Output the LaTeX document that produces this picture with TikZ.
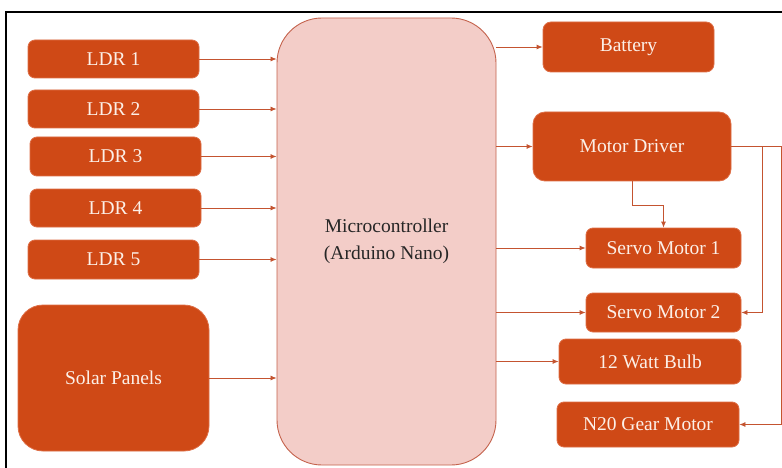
\documentclass[tikz,border=0pt]{standalone}
\usepackage{fontspec}
\newfontfamily\diafont{Liberation Serif}
\usetikzlibrary{arrows.meta}
\definecolor{boxfill}{RGB}{207,73,22}
\definecolor{boxedge}{RGB}{222,110,70}
\definecolor{mcfill}{RGB}{243,205,200}
\definecolor{mcedge}{RGB}{196,98,76}
\definecolor{linecol}{RGB}{196,84,48}
\definecolor{txtcol}{RGB}{252,240,232}
\tikzset{
  box/.style={draw=boxedge, line width=0.8pt, fill=boxfill, text=txtcol,
    font=\diafont\fontsize{19.5}{23}\selectfont, inner sep=0pt, rounded corners=7pt},
  mcbox/.style={draw=mcedge, line width=0.9pt, fill=mcfill, text=black!85,
    font=\diafont\fontsize{19.5}{27}\selectfont, align=center, inner sep=0pt, rounded corners=45pt},
  conn/.style={draw=linecol, line width=0.8pt},
  arr/.style={conn, -{Latex[length=6pt,width=5pt]}}
}
\begin{document}
\begin{tikzpicture}[x=1pt,y=-1pt]
\useasboundingbox (0,0) rectangle (782,468);
\fill[white] (0,0) rectangle (782,468);
% frame
\draw[black, line width=2.2pt] (6,470) -- (6,12) -- (784,12);
% left column
\node[box, minimum width=171pt, minimum height=38pt] (l1) at (113.5,59) {LDR 1};
\node[box, minimum width=171pt, minimum height=38pt] (l2) at (113.5,109) {LDR 2};
\node[box, minimum width=171pt, minimum height=39pt] (l3) at (115.5,156.5) {LDR 3};
\node[box, minimum width=171pt, minimum height=38pt] (l4) at (115.5,208) {LDR 4};
\node[box, minimum width=171pt, minimum height=39pt] (l5) at (113.5,259.5) {LDR 5};
\node[box, minimum width=191pt, minimum height=146pt, rounded corners=25pt] (sp) at (113.5,378) {Solar Panels};
% microcontroller
\node[mcbox, minimum width=219pt, minimum height=447pt] (mc) at (386.5,241.5) {Microcontroller\\(Arduino Nano)};
% right column
\node[box, minimum width=171pt, minimum height=50pt, rounded corners=8pt] (bat) at (628.5,47) {Battery};
\node[box, minimum width=198pt, minimum height=69pt, rounded corners=12pt] (md) at (632,146.5) {Motor Driver};
\node[box, minimum width=155pt, minimum height=40pt] (s1) at (663.5,248) {Servo Motor 1};
\node[box, minimum width=155pt, minimum height=39pt] (s2) at (663.5,312.5) {Servo Motor 2};
\node[box, minimum width=182pt, minimum height=45pt] (bulb) at (650,361.5) {12 Watt Bulb};
\node[box, minimum width=182pt, minimum height=45pt] (n20) at (648,424.5) {N20 Gear Motor};
% inputs
\foreach \n in {l1,l2,l3,l4,l5,sp}{
  \draw[arr] (\n.east) -- (\n.east -| mc.west);
}
% outputs
\draw[arr] (mc.east |- bat.west) -- (bat.west);
\draw[arr] (mc.east |- md.west) -- (md.west);
\draw[arr] (mc.east |- s1.west) -- (s1.west);
\draw[arr] (mc.east |- s2.west) -- (s2.west);
\draw[arr] (mc.east |- bulb.west) -- (bulb.west);
% motor driver branches
\coordinate (mdk) at (632,205);
\draw[arr] (md.south) -- (md.south |- mdk) -| (s1.north);
\coordinate (j1) at (762,146.5);
\coordinate (j2) at (781,146.5);
\draw[conn] (md.east) -- (j2);
\draw[arr] (j1) |- (s2.east);
\draw[arr] (j2) |- (n20.east);
\end{tikzpicture}
\end{document}
